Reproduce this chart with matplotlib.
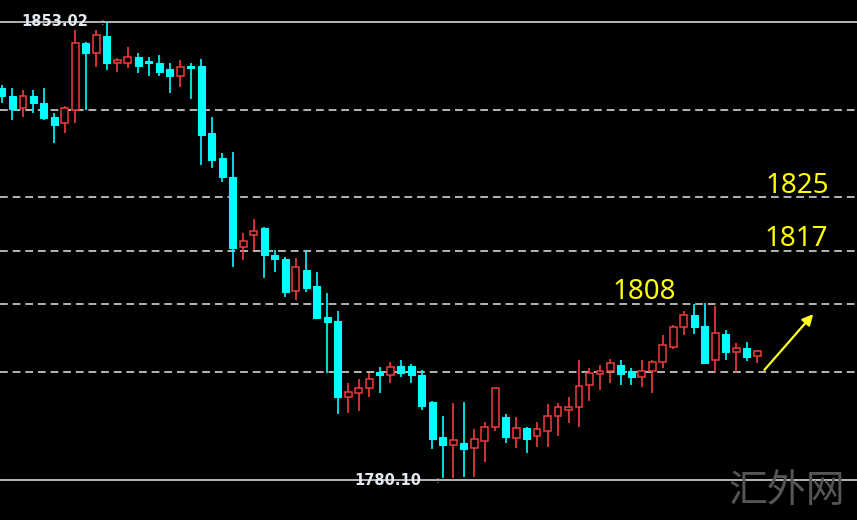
import matplotlib.pyplot as plt
from matplotlib.patches import Rectangle

# K线数据 (开, 高, 低, 收)
opens = [1842.5, 1841.2, 1839.3, 1841.2, 1840.1, 1837.9, 1836.9, 1839.0, 1849.7, 1848.1,
         1850.8, 1846.5, 1846.5, 1847.4, 1846.6, 1846.5, 1845.5, 1844.4, 1845.9, 1846.0,
         1835.3, 1831.4, 1828.3, 1817.2, 1819.1, 1820.2, 1815.9, 1815.3, 1810.2, 1813.5,
         1811.0, 1806.1, 1805.4, 1793.3, 1794.0, 1794.8, 1797.3, 1796.8, 1798.3, 1798.3,
         1796.8, 1792.5, 1786.9, 1785.7, 1786.0, 1785.2, 1786.3, 1788.5, 1790.1, 1786.8,
         1788.4, 1787.1, 1787.9, 1790.3, 1791.2, 1791.7, 1795.2, 1797.0, 1797.5, 1798.4,
         1797.5, 1796.5, 1797.5, 1798.9, 1801.3, 1804.5, 1806.4, 1804.6, 1799.2, 1803.3,
         1800.5, 1801.1, 1799.8]
highs = [1843.0, 1842.5, 1842.2, 1842.2, 1842.5, 1838.5, 1839.6, 1851.7, 1849.8, 1851.7,
         1853.0, 1847.3, 1849.0, 1848.1, 1847.4, 1847.8, 1846.5, 1847.0, 1846.5, 1847.1,
         1837.9, 1832.2, 1832.3, 1819.4, 1821.6, 1820.4, 1816.7, 1815.6, 1815.5, 1816.7,
         1813.2, 1809.9, 1807.0, 1795.5, 1796.2, 1797.1, 1798.1, 1798.9, 1799.2, 1798.6,
         1797.6, 1792.7, 1790.3, 1792.4, 1792.5, 1788.2, 1789.3, 1794.8, 1790.6, 1790.1,
         1788.5, 1789.3, 1792.2, 1792.4, 1793.3, 1799.2, 1797.9, 1798.4, 1799.4, 1799.2,
         1797.9, 1799.2, 1799.2, 1803.2, 1804.8, 1807.0, 1808.1, 1808.3, 1807.8, 1804.0,
         1801.9, 1802.1, 1800.8]
lows = [1840.1, 1837.4, 1837.9, 1838.5, 1837.4, 1833.8, 1835.3, 1836.9, 1839.0, 1845.9,
        1845.4, 1845.1, 1845.7, 1844.9, 1844.4, 1844.4, 1841.7, 1842.7, 1840.8, 1830.3,
        1829.8, 1827.5, 1814.0, 1815.1, 1816.7, 1812.3, 1813.2, 1809.2, 1808.8, 1810.0,
        1805.7, 1797.1, 1790.6, 1790.8, 1791.1, 1793.3, 1794.0, 1795.5, 1796.5, 1795.5,
        1791.2, 1785.0, 1780.4, 1780.4, 1780.6, 1780.6, 1783.0, 1787.9, 1786.0, 1785.2,
        1784.4, 1785.4, 1785.4, 1787.1, 1789.2, 1788.5, 1792.7, 1794.4, 1795.5, 1795.2,
        1795.2, 1794.9, 1794.0, 1797.9, 1801.0, 1803.2, 1803.3, 1798.6, 1797.3, 1799.2,
        1797.3, 1799.1, 1798.7]
closes = [1841.2, 1839.2, 1841.2, 1840.1, 1837.7, 1836.6, 1839.3, 1849.7, 1848.1, 1851.0,
          1846.5, 1847.0, 1847.4, 1846.0, 1846.5, 1845.1, 1844.4, 1845.9, 1845.7, 1835.0,
          1831.0, 1828.3, 1817.0, 1818.2, 1819.7, 1815.9, 1815.3, 1810.0, 1814.0, 1810.7,
          1805.9, 1805.3, 1793.3, 1794.1, 1794.8, 1796.2, 1796.8, 1798.1, 1797.1, 1796.8,
          1791.9, 1786.6, 1785.7, 1786.5, 1785.0, 1786.6, 1788.5, 1794.8, 1786.9, 1788.4,
          1786.6, 1788.2, 1790.3, 1791.7, 1791.7, 1795.1, 1797.1, 1797.5, 1798.7, 1797.0,
          1796.5, 1797.5, 1798.9, 1801.6, 1804.5, 1806.4, 1804.5, 1798.7, 1803.5, 1800.5,
          1801.1, 1799.7, 1800.6]

top_price = 1853.02
bottom_price = 1780.10
dashed_levels = [1839.0, 1825.2, 1816.6, 1808.1, 1797.3]
level_labels = ["1825", "1817", "1808"]
label_prices = [1825.8, 1817.4, 1808.9]
label_x = [72.8, 72.7, 58.2]
arrow_start = (72.5, 1797.3)
arrow_end = (77.5, 1806.85)

up_col = "#f03c3c"
down_col = "#00ffff"

fig = plt.figure(figsize=(8.57, 5.2), dpi=100, facecolor="black")
ax = fig.add_axes([0, 0, 1, 1])
ax.set_facecolor("black")
ax.set_xlim(-0.19, 81.5)
ax.set_ylim(1773.74, 1856.52)
ax.axis("off")

# 水平线
ax.axhline(top_price, color="#c4c4c4", lw=1.3, zorder=1)
ax.axhline(bottom_price, color="#c4c4c4", lw=1.3, zorder=1)
for lv in dashed_levels:
    ax.axhline(lv, color="#b4b4b4", lw=1.4, dashes=(4, 2.5), zorder=1)

# 蜡烛
w = 0.66
for i, (o, h, l, c) in enumerate(zip(opens, highs, lows, closes)):
    col = up_col if c >= o else down_col
    ax.vlines(i, l, h, color=col, lw=1.2, zorder=2)
    bottom = min(o, c)
    height = max(abs(c - o), 0.25)
    if c >= o:
        rect = Rectangle((i - w / 2, bottom), w, height, facecolor="black",
                         edgecolor=col, lw=1.1, zorder=3)
    else:
        rect = Rectangle((i - w / 2, bottom), w, height, facecolor=col,
                         edgecolor=col, lw=0.8, zorder=3)
    ax.add_patch(rect)

# 价格标签
ax.text(1.8, top_price, "%.2f" % top_price, color="#e4e8f0", fontsize=10.5,
        fontweight="bold", va="center", ha="left", zorder=4)
ax.text(33.6, bottom_price, "%.2f" % bottom_price, color="#e4e8f0", fontsize=10.5,
        fontweight="bold", va="center", ha="left", zorder=4)
ax.text(9.55, top_price, ":", color="#c4c4c4", fontsize=8, va="center", ha="center", zorder=4)
ax.text(41.5, bottom_price, ":", color="#c4c4c4", fontsize=8, va="center", ha="center", zorder=4)

for txt, y, x in zip(level_labels, label_prices, label_x):
    ax.text(x, y, txt, color="#ffff00", fontsize=20, family="Noto Sans",
            ha="left", va="baseline", zorder=4)

ax.annotate("", xy=arrow_end, xytext=arrow_start,
            arrowprops=dict(arrowstyle="-|>", color="#ffff22", lw=1.6,
                            mutation_scale=16), zorder=4)

# 水印
ax.text(0.918, 0.055, "汇外网", transform=ax.transAxes, color="#555555",
        fontsize=28, family=["Noto Sans CJK SC", "DejaVu Sans"],
        ha="center", va="center", zorder=5)

fig.savefig("out.png", dpi=100, facecolor="black")
